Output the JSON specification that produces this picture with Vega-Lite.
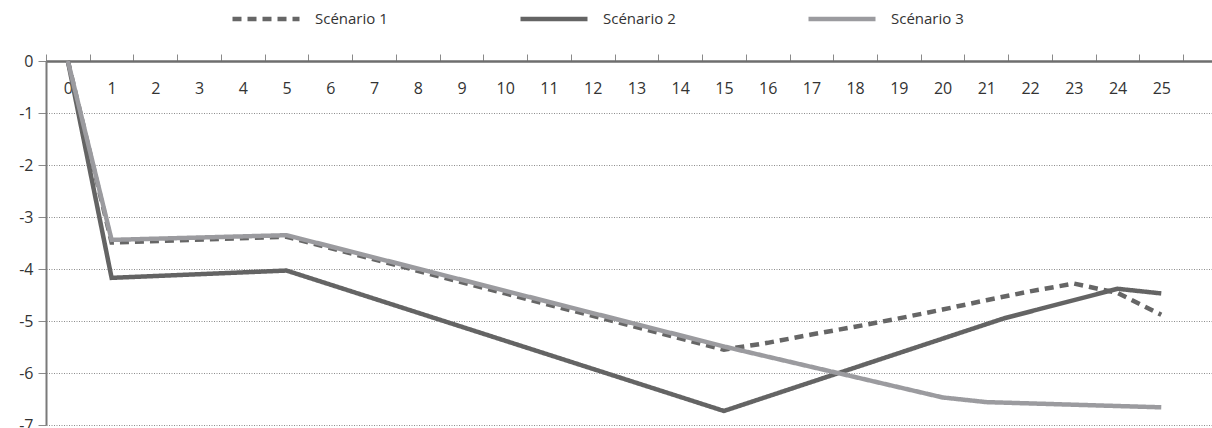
{
  "$schema": "https://vega.github.io/schema/vega-lite/v6.json",
  "autosize": {"type": "none"},
  "padding": {"left": 46, "top": 61, "right": 0, "bottom": 3},
  "width": 1166,
  "height": 364,
  "config": {
    "font": "Open Sans",
    "view": {"stroke": null},
    "axis": {"labelFont": "Open Sans", "labelFontSize": 16, "labelColor": "#333333"}
  },
  "data": {
    "values": [
      {"x": 0, "y": 0, "s": "Scénario 1"},
      {"x": 1, "y": -3.49, "s": "Scénario 1"},
      {"x": 5, "y": -3.38, "s": "Scénario 1"},
      {"x": 10, "y": -4.47, "s": "Scénario 1"},
      {"x": 15, "y": -5.55, "s": "Scénario 1"},
      {"x": 16, "y": -5.42, "s": "Scénario 1"},
      {"x": 17, "y": -5.26, "s": "Scénario 1"},
      {"x": 18, "y": -5.11, "s": "Scénario 1"},
      {"x": 19, "y": -4.95, "s": "Scénario 1"},
      {"x": 20, "y": -4.78, "s": "Scénario 1"},
      {"x": 21, "y": -4.6, "s": "Scénario 1"},
      {"x": 22, "y": -4.43, "s": "Scénario 1"},
      {"x": 23, "y": -4.28, "s": "Scénario 1"},
      {"x": 24, "y": -4.46, "s": "Scénario 1"},
      {"x": 25, "y": -4.88, "s": "Scénario 1"},
      {"x": 0, "y": 0, "s": "Scénario 2"},
      {"x": 1, "y": -4.17, "s": "Scénario 2"},
      {"x": 5, "y": -4.03, "s": "Scénario 2"},
      {"x": 15, "y": -6.73, "s": "Scénario 2"},
      {"x": 21.4, "y": -4.95, "s": "Scénario 2"},
      {"x": 24, "y": -4.38, "s": "Scénario 2"},
      {"x": 25, "y": -4.47, "s": "Scénario 2"},
      {"x": 0, "y": 0, "s": "Scénario 3"},
      {"x": 1, "y": -3.44, "s": "Scénario 3"},
      {"x": 5, "y": -3.35, "s": "Scénario 3"},
      {"x": 15, "y": -5.49, "s": "Scénario 3"},
      {"x": 20, "y": -6.47, "s": "Scénario 3"},
      {"x": 21, "y": -6.56, "s": "Scénario 3"},
      {"x": 25, "y": -6.66, "s": "Scénario 3"}
    ]
  },
  "mark": {"type": "line", "strokeWidth": 4.5, "strokeCap": "butt", "strokeJoin": "miter", "clip": false},
  "encoding": {
    "x": {
      "field": "x",
      "type": "quantitative",
      "scale": {"domain": [-0.5, 26.16], "nice": false, "zero": false},
      "axis": {
        "orient": "top",
        "title": null,
        "values": [-0.5, 0.5, 1.5, 2.5, 3.5, 4.5, 5.5, 6.5, 7.5, 8.5, 9.5, 10.5, 11.5, 12.5, 13.5, 14.5, 15.5, 16.5, 17.5, 18.5, 19.5, 20.5, 21.5, 22.5, 23.5, 24.5, 25.5],
        "labelExpr": "datum.value > 25 ? '' : format(datum.value + 0.5, 'd')",
        "labelOffset": 21.87,
        "labelBaseline": "middle",
        "labelPadding": -34,
        "labelFlush": false,
        "labelOverlap": false,
        "tickSize": 7,
        "tickColor": "#8a8a8a",
        "tickWidth": 1,
        "domainColor": "#6e6e6e",
        "domainWidth": 2.5,
        "grid": false
      }
    },
    "y": {
      "field": "y",
      "type": "quantitative",
      "scale": {"domain": [-7, 0], "nice": false},
      "axis": {
        "title": null,
        "values": [0, -1, -2, -3, -4, -5, -6, -7],
        "labelExpr": "toString(datum.value)",
        "tickSize": 8,
        "tickColor": "#8a8a8a",
        "domainColor": "#7a7a7a",
        "domainWidth": 2,
        "labelPadding": 5,
        "grid": true,
        "gridColor": "#8c8c8c",
        "gridDash": [1, 1.5],
        "gridWidth": 1
      }
    },
    "color": {
      "field": "s",
      "type": "nominal",
      "scale": {"domain": ["Scénario 1", "Scénario 2", "Scénario 3"], "range": ["#666666", "#646464", "#9b9b9f"]},
      "legend": {
        "title": null,
        "orient": "none",
        "direction": "horizontal",
        "legendX": 184,
        "legendY": -78,
        "symbolType": "stroke",
        "symbolSize": 4489,
        "symbolStrokeWidth": 4.5,
        "labelFont": "Open Sans",
        "labelFontSize": 15,
        "labelColor": "#333333",
        "labelOffset": 13,
        "columnPadding": 123
      }
    },
    "strokeDash": {
      "field": "s",
      "type": "nominal",
      "scale": {"domain": ["Scénario 1", "Scénario 2", "Scénario 3"], "range": [[9, 6], [1, 0], [1, 0]]},
      "legend": {
        "title": null,
        "orient": "none",
        "direction": "horizontal",
        "legendX": 184,
        "legendY": -78,
        "symbolType": "stroke",
        "symbolSize": 4489,
        "symbolStrokeWidth": 4.5,
        "labelFont": "Open Sans",
        "labelFontSize": 15,
        "labelColor": "#333333",
        "labelOffset": 13,
        "columnPadding": 123
      }
    }
  }
}
